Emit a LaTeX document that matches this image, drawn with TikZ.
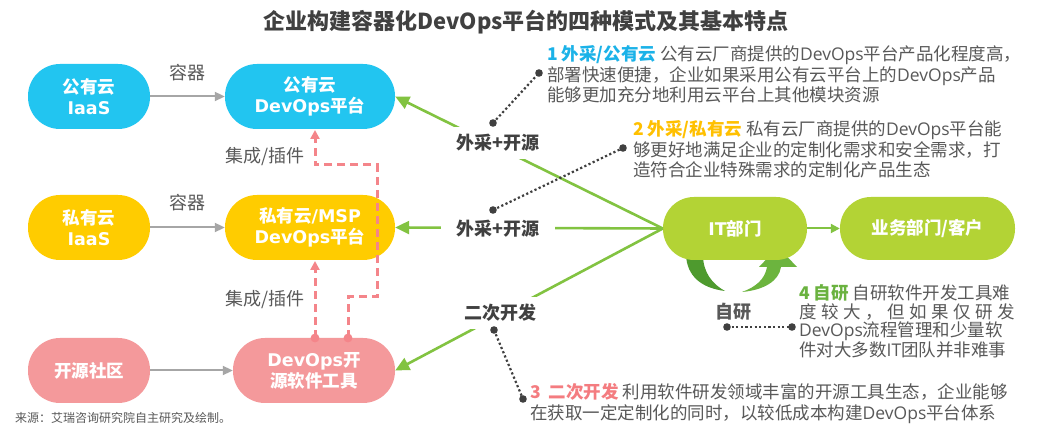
\documentclass[tikz,border=0pt]{standalone}
\usepackage{fontspec}
\setmainfont{Noto Sans CJK SC}
\newfontfamily\vb{DejaVu Sans}
\newfontfamily\lat{Open Sans}
\usetikzlibrary{arrows.meta}
\definecolor{cyanN}{HTML}{22C5F0}
\definecolor{yellowN}{HTML}{FFCC00}
\definecolor{pinkN}{HTML}{F4999B}
\definecolor{limeN}{HTML}{B3D335}
\definecolor{greenL}{HTML}{82C341}
\definecolor{darkArc}{HTML}{4E9A2E}
\definecolor{lightArc}{HTML}{6CB43E}
\definecolor{txt}{HTML}{595959}
\definecolor{ttl}{HTML}{404040}
\definecolor{grayA}{HTML}{A6A6A6}
\definecolor{pinkD}{HTML}{F4858A}
\definecolor{cA}{HTML}{1BB2E8}
\definecolor{cB}{HTML}{FFC000}
\definecolor{cC}{HTML}{F47C80}
\definecolor{cD}{HTML}{6AB23F}
\definecolor{dotc}{HTML}{404040}
\newcommand\dvo{{\lat DevOps}}
\begin{document}
\begin{tikzpicture}[x=1pt,y=-1pt,
  pill/.style={rounded corners=32pt, minimum height=65pt, inner sep=0pt, align=center, text=white, font=\bfseries\fontsize{17.5}{21}\selectfont},
  grayarrow/.style={draw=grayA, line width=2pt, -{Triangle[length=10pt,width=9pt]}},
  greenarrow/.style={draw=greenL, line width=2.6pt, -{Triangle[length=14pt,width=13pt]}},
  pinkdash/.style={draw=pinkD, line width=3pt, dash pattern=on 8pt off 5pt},
  pinkhead/.style={pinkdash, -{Triangle[length=9pt,width=9pt]}},
  dotline/.style={draw=dotc, line width=2.2pt, dash pattern=on 2.2pt off 2.4pt},
  lbl/.style={text=txt, font=\fontsize{18}{20}\selectfont, inner sep=0pt},
  blab/.style={text=ttl, font=\bfseries\fontsize{18}{20}\selectfont, fill=white, inner xsep=16pt, inner ysep=7pt},
  blk/.style={text=txt, align=left, inner sep=0pt, anchor=north west}
]
\useasboundingbox[fill=white] (0,0) rectangle (1037,435);

% title
\node[text=ttl, font=\bfseries\fontsize{22}{26}\selectfont] (title) at (526,22) {企业构建容器化DevOps平台的四种模式及其基本特点};

% self-research arcs (behind IT node)
\fill[darkArc] (686,255) .. controls (687,276) and (701,288) .. (725,291) .. controls (712,284) and (703,272) .. (703,255) -- cycle;
\fill[lightArc] (742,292) .. controls (764,290) and (779,281) .. (781,267) -- (797,267) -- (778,247) -- (759,267) -- (767,267) .. controls (765,279) and (756,287) .. (742,292) -- cycle;

% nodes
\node[pill, fill=cyanN, minimum width=122pt] (pubiaas) at (89,96.5) {公有云\\{\vb IaaS}};
\node[pill, fill=cyanN, minimum width=170pt] (pubdev) at (310,96.5) {公有云\\{\vb DevOps}平台};
\node[pill, fill=yellowN, minimum width=122pt] (priiaas) at (89,227.5) {私有云\\{\vb IaaS}};
\node[pill, fill=yellowN, minimum width=170pt] (pridev) at (310,227.5) {私有云{\vb /MSP}\\{\vb DevOps}平台};
\node[pill, fill=pinkN, minimum width=122pt] (oss) at (89,370.5) {开源社区};
\node[pill, fill=pinkN, minimum width=162pt] (osstool) at (314,370.5) {{\vb DevOps}开\\源软件工具};
\node[pill, fill=limeN, minimum width=144pt, minimum height=63pt, rounded corners=31pt] (it) at (735,228.5) {{\vb IT}部门};
\node[pill, fill=limeN, minimum width=175pt, minimum height=63pt, rounded corners=31pt] (biz) at (927.5,228.5) {业务部门/客户};

% gray arrows
\draw[grayarrow] (pubiaas) -- (pubdev);
\draw[grayarrow] (priiaas) -- (pridev);
\draw[grayarrow] (oss) -- (osstool);
\node[lbl] (rq1) at (187,73) {容器};
\node[lbl] (rq2) at (187,203) {容器};
\node[lbl] (jc1) at (265,157) {集成/插件};
\node[lbl] (jc2) at (265,300) {集成/插件};

% green arrows
\draw[greenarrow] (it.west) -- (pubdev.east);
\draw[greenarrow] (it.west) -- (pridev.east);
\draw[greenarrow] (it.west) -- (osstool.east);
\draw[draw=greenL, line width=2pt, -{Triangle[length=9pt,width=9pt]}] (it) -- (biz);

\node[blab] (wc1) at (498,143) {外采+开源};
\node[blab] (wc2) at (498,229) {外采+开源};
\node[blab] (ec) at (500,313) {二次开发};
\node[text=txt, font=\bfseries\fontsize{18}{20}\selectfont, inner sep=0pt] (zy) at (733,312) {自研};

% pink dashed
\coordinate (k1) at (348,338);
\coordinate (k2) at (315,338);
\coordinate (t1) at (315,130);
\coordinate (t2) at (315,261);
\draw[pinkhead] (k1) -- (348,297) -- (377,297) -- (377,165) -- (315,165) -- (t1);
\draw[pinkhead] (k2) -- (t2);
\fill[pinkD] (k1) circle (4.4pt);
\fill[pinkD] (k2) circle (4.4pt);

% dotted callouts
\coordinate (p1a) at (493,123); \coordinate (p1b) at (539,73);
\coordinate (p2a) at (493,210); \coordinate (p2b) at (623,148);
\coordinate (p3a) at (494,330); \coordinate (p3b) at (523,399);
\coordinate (p4a) at (727,327); \coordinate (p4b) at (792,327);
\draw[dotline] (p1a) -- (p1b);
\draw[dotline] (p2a) -- (p2b);
\draw[dotline] (p3a) -- (p3b);
\draw[dotline] (p4a) -- (p4b);
\foreach \p in {p1a,p1b,p2a,p2b,p3a,p3b,p4a,p4b} \fill[dotc] (\p) circle (3.8pt);

% text blocks
\node[blk, font=\fontsize{17.5}{20.5}\selectfont] (b1) at (547,45.5) {{\color{cA}\bfseries 1 外采/公有云} 公有云厂商提供的\dvo 平台产品化程度高，\\部署快速便捷，企业如果采用公有云平台上的\dvo 产品\\能够更加充分地利用云平台上其他模块资源};
\node[blk, font=\fontsize{17.5}{20.5}\selectfont] (b2) at (633,120.5) {{\color{cB}\bfseries 2 外采/私有云} 私有云厂商提供的\dvo 平台能\\够更好地满足企业的定制化需求和安全需求，打\\造符合企业特殊需求的定制化产品生态};
\node[blk, font=\fontsize{17.5}{20.5}\selectfont] (b3) at (530,383.5) {{\color{cC}\bfseries 3\ \ 二次开发} 利用软件研发领域丰富的开源工具生态，企业能够\\在获取一定定制化的同时，以较低成本构建\dvo 平台体系};
\node[blk, font=\fontsize{17.5}{18.5}\selectfont] (b4) at (799,284.5) {{\color{cD}\bfseries 4 自研} 自研软件开发工具难\\\makebox[216pt][s]{度 较 大 ， 但 如 果 仅 研 发}\\\dvo 流程管理和少量软\\件对大多数{\lat IT}团队并非难事};

% source
\node[anchor=west, text=txt, font=\fontsize{12}{14}\selectfont, inner sep=0pt] (src) at (15,418) {来源：艾瑞咨询研究院自主研究及绘制。};
\end{tikzpicture}
\end{document}
